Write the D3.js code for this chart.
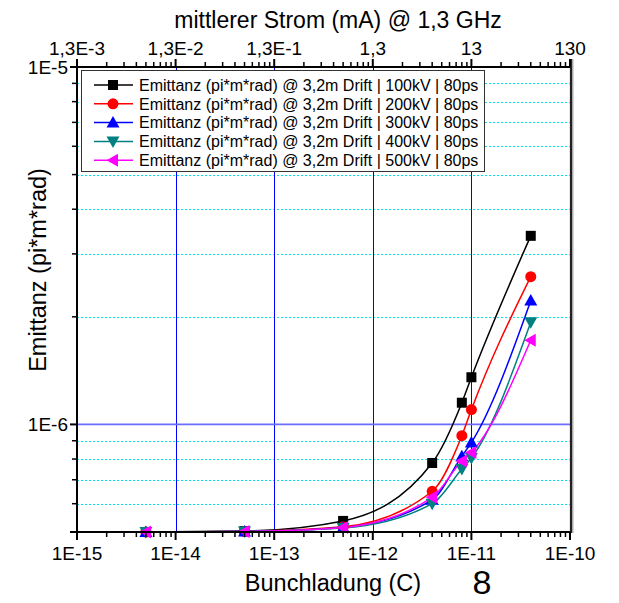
<!DOCTYPE html>
<html><head><meta charset="utf-8">
<script src="https://cdn.jsdelivr.net/npm/d3@7"></script>
<style>body{margin:0;background:#fff}svg{display:block;font-family:"Liberation Sans",Arial,sans-serif}</style>
</head><body><svg id="c" width="619" height="603"></svg>
<script>
const charge = [5e-15, 5e-14, 5e-13, 4e-12, 8e-12, 1e-11, 4e-11];
const e100 = [5.0e-7, 5.03e-7, 5.37e-7, 7.8e-7, 1.15e-6, 1.355e-6, 3.37e-6];
const e200 = [5.0e-7, 5.02e-7, 5.17e-7, 6.5e-7, 9.3e-7, 1.10e-6, 2.59e-6];
const e300 = [5.0e-7, 5.02e-7, 5.15e-7, 6.15e-7, 8.15e-7, 8.9e-7, 2.22e-6];
const e400 = [5.0e-7, 5.02e-7, 5.13e-7, 6.0e-7, 7.5e-7, 8.05e-7, 1.93e-6];
const e500 = [5.0e-7, 5.02e-7, 5.15e-7, 6.25e-7, 7.9e-7, 8.35e-7, 1.72e-6];
const seriesNames = ["Emittanz (pi*m*rad) @ 3,2m Drift | 100kV | 80ps","Emittanz (pi*m*rad) @ 3,2m Drift | 200kV | 80ps","Emittanz (pi*m*rad) @ 3,2m Drift | 300kV | 80ps","Emittanz (pi*m*rad) @ 3,2m Drift | 400kV | 80ps","Emittanz (pi*m*rad) @ 3,2m Drift | 500kV | 80ps"];
const seriesValues = [e100, e200, e300, e400, e500];
const colors = ["#000000","#ff0000","#0000ff","#008080","#ff00ff"];
const symbols = ["square","circle","up","down","left"];
const xTicks = [1e-15,1e-14,1e-13,1e-12,1e-11,1e-10];
const xTickLabels = ["1E-15","1E-14","1E-13","1E-12","1E-11","1E-10"];
const topTicks = [1.3e-3,1.3e-2,1.3e-1,1.3,13,130];
const topTickLabels = ["1,3E-3","1,3E-2","1,3E-1","1,3","13","130"];
const yTicks = [1e-6,1e-5];
const yTickLabels = ["1E-6","1E-5"];

const svg = d3.select("#c");
const L=77,R=570,T=67,B=532;
const x = d3.scaleLog().domain([1e-15,1e-10]).range([L,R]);
const xt = d3.scaleLog().domain([1.3e-3,130]).range([L,R]);
const y = d3.scaleLog().domain([5e-7,1e-5]).range([B,T]);

function minors(lo, hi){const r=[];for(let d=lo; d<hi*0.99; d*=10){for(let k=2;k<=9;k++)r.push(d*k);}return r;}
const yMinor = minors(1e-7,1e-5).filter(v=>v>=5e-7*0.999 && v<1e-5);

// gridlines
svg.append("g").selectAll("line").data(yMinor.filter(v=>Math.abs(v-1e-6)>1e-9 && v>5.1e-7)).join("line")
  .attr("x1",L).attr("x2",R).attr("y1",d=>Math.round(y(d))+0.5).attr("y2",d=>Math.round(y(d))+0.5)
  .attr("stroke","#00e5ee").attr("stroke-width",1).attr("stroke-dasharray","2,2");
svg.append("g").selectAll("line").data(xTicks.slice(1,-1)).join("line")
  .attr("x1",d=>Math.round(x(d))+0.5).attr("x2",d=>Math.round(x(d))+0.5).attr("y1",T).attr("y2",B)
  .attr("stroke","#0000ff").attr("stroke-width",1);
svg.append("line").attr("x1",L).attr("x2",R).attr("y1",y(1e-6)).attr("y2",y(1e-6))
  .attr("stroke","#6b6bff").attr("stroke-width",1.6);

function drawMarker(g, type, color){
  if(type==="square") g.append("rect").attr("x",-5).attr("y",-5).attr("width",10).attr("height",10).attr("fill",color);
  else if(type==="circle") g.append("circle").attr("r",5.5).attr("fill",color);
  else {
    let p;
    if(type==="up") p="M0,-6.5L6.5,5L-6.5,5Z";
    else if(type==="down") p="M0,6.5L6.5,-5L-6.5,-5Z";
    else p="M-6.5,0L5,-6.5L5,6.5Z";
    g.append("path").attr("d",p).attr("fill",color);
  }
}
const line = d3.line().x(d=>x(d[0])).y(d=>y(d[1])).curve(d3.curveMonotoneX);
seriesValues.forEach((vals,i)=>{
  const pts = charge.map((c,j)=>[c,vals[j]]);
  svg.append("path").datum(pts).attr("d",line).attr("fill","none").attr("stroke",colors[i]).attr("stroke-width",1.5);
});
seriesValues.forEach((vals,i)=>{
  charge.forEach((c,j)=>{
    const g = svg.append("g").attr("transform",`translate(${x(c)},${y(vals[j])})`);
    drawMarker(g, symbols[i], colors[i]);
  });
});

// legend
const lg = svg.append("g");
lg.append("rect").attr("x",81.5).attr("y",70.5).attr("width",403).attr("height",101).attr("fill","#fff").attr("stroke","#333").attr("stroke-width",1);
seriesNames.forEach((n,i)=>{
  const yy = 85 + i*18.8;
  lg.append("line").attr("x1",94).attr("x2",133).attr("y1",yy).attr("y2",yy).attr("stroke",colors[i]).attr("stroke-width",1.5);
  const g = lg.append("g").attr("transform",`translate(113,${yy})`);
  drawMarker(g, symbols[i], colors[i]);
  lg.append("text").attr("x",139).attr("y",yy+5.8).attr("font-size",16).attr("fill","#000").text(n);
});

// axes
const ax = svg.append("g").attr("stroke","#000");
ax.append("line").attr("x1",L).attr("x2",R+1).attr("y1",B).attr("y2",B).attr("stroke-width",2);
ax.append("line").attr("x1",L).attr("x2",L).attr("y1",T-1).attr("y2",B+1).attr("stroke-width",2);
ax.append("line").attr("x1",L).attr("x2",R+1).attr("y1",T).attr("y2",T).attr("stroke-width",2);
ax.append("line").attr("x1",R+1).attr("x2",R+1).attr("y1",T-8).attr("y2",B+1).attr("stroke-width",2.2).attr("stroke","#222");
ax.append("line").attr("x1",R+2.8).attr("x2",R+2.8).attr("y1",T-8).attr("y2",B+1).attr("stroke-width",1.2).attr("stroke","#999");

const xMinor = minors(1e-15,1e-10);
ax.selectAll(".bt").data(xTicks).join("line").attr("x1",d=>x(d)).attr("x2",d=>x(d)).attr("y1",B).attr("y2",B+8).attr("stroke-width",2);
ax.selectAll(".bm").data(xMinor).join("line").attr("x1",d=>x(d)).attr("x2",d=>x(d)).attr("y1",B).attr("y2",B+5).attr("stroke-width",1.5);
const tMinor = minors(1.3e-3,130);
ax.selectAll(".tt").data(topTicks).join("line").attr("x1",d=>xt(d)).attr("x2",d=>xt(d)).attr("y1",T).attr("y2",T-8).attr("stroke-width",2);
ax.selectAll(".tm").data(tMinor).join("line").attr("x1",d=>xt(d)).attr("x2",d=>xt(d)).attr("y1",T).attr("y2",T-5).attr("stroke-width",1.5);
ax.selectAll(".lt").data(yTicks.concat([5e-7])).join("line").attr("x1",L-7).attr("x2",L).attr("y1",d=>y(d)).attr("y2",d=>y(d)).attr("stroke-width",2);
ax.selectAll(".lm").data(yMinor.filter(v=>v>5.1e-7)).join("line").attr("x1",L-5).attr("x2",L).attr("y1",d=>y(d)).attr("y2",d=>y(d)).attr("stroke-width",1.5);

// labels
const tx = svg.append("g").attr("fill","#000");
tx.selectAll(".bl").data(xTicks).join("text").attr("x",d=>x(d)).attr("y",560).attr("text-anchor","middle").attr("font-size",19).text((d,i)=>xTickLabels[i]);
tx.selectAll(".tl").data(topTicks).join("text").attr("x",d=>xt(d)).attr("y",55).attr("text-anchor","middle").attr("font-size",19).text((d,i)=>topTickLabels[i]);
tx.selectAll(".yl").data(yTicks).join("text").attr("x",L-9).attr("y",d=>y(d)+7).attr("text-anchor","end").attr("font-size",19).text((d,i)=>yTickLabels[i]);
tx.append("text").attr("x",333).attr("y",591).attr("text-anchor","middle").attr("font-size",23.5).text("Bunchladung (C)");
tx.append("text").attr("x",338).attr("y",28).attr("text-anchor","middle").attr("font-size",23).text("mittlerer Strom (mA) @ 1,3 GHz");
tx.append("text").attr("transform","translate(46,270) rotate(-90)").attr("text-anchor","middle").attr("font-size",23.5).text("Emittanz (pi*m*rad)");
tx.append("text").attr("x",482).attr("y",594).attr("text-anchor","middle").attr("font-size",34).text("8");
</script></body></html>
